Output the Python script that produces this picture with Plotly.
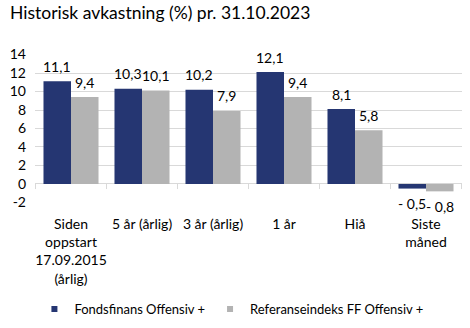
import plotly.graph_objects as go

categories = ["Siden<br>oppstart<br>17.09.2015<br>(årlig)", "5 år (årlig)", "3 år (årlig)",
              "1 år", "Hiå", "Siste<br>måned"]
fund = [11.1, 10.3, 10.2, 12.1, 8.1, -0.5]
ref = [9.4, 10.1, 7.9, 9.4, 5.8, -0.8]
series_names = ["Fondsfinans Offensiv +", "Referanseindeks FF Offensiv +"]
y_ticks = [-2, 0, 2, 4, 6, 8, 10, 12, 14]

BLUE = "#253672"
GRAY = "#b3b3b3"
FONT = "Lato"


def fmt(v):
    s = f"{abs(v):.1f}".replace(".", ",")
    return ("- " + s) if v < 0 else s


fig = go.Figure()
for vals, col in [(fund, BLUE), (ref, GRAY)]:
    fig.add_trace(go.Bar(
        x=categories, y=vals, marker=dict(color=col, line=dict(width=0)),
        showlegend=False, hoverinfo="skip"))

# value labels, offset to each bar of the group
half_bar = 13.8
for vals, dx in [(fund, -half_bar), (ref, half_bar)]:
    for c, v in zip(categories, vals):
        fig.add_annotation(x=c, y=v, xref="x", yref="y", text=fmt(v), showarrow=False,
                           xshift=dx, yshift=15 if v >= 0 else -15, yanchor="middle",
                           font=dict(family=FONT, size=14, color="#000"))

# legend entries (small square symbols)
for name, col in zip(series_names, [BLUE, GRAY]):
    fig.add_trace(go.Scatter(x=[None], y=[None], mode="markers", name=name,
                             marker=dict(symbol="square", size=6, color=col)))

# tick marks on the zero axis line between categories
for i in range(len(categories) + 1):
    fig.add_shape(type="line", xref="x", yref="y", x0=i - 0.5, x1=i - 0.5, y0=0, y1=-0.55,
                  line=dict(color="#d9d9d9", width=1))

fig.update_layout(
    width=470, height=328,
    margin=dict(l=35, r=8, t=54, b=125, autoexpand=False),
    paper_bgcolor="white", plot_bgcolor="white",
    font=dict(family=FONT, size=14, color="#000"),
    barmode="group", bargap=0.225, bargroupgap=0,
    title=dict(text="Historisk avkastning (%) pr. 31.10.2023", x=10 / 470, xref="container",
               xanchor="left", y=1 - 13 / 328, yref="container", yanchor="middle",
               font=dict(family=FONT, size=17.5, color="#000")),
    xaxis=dict(type="category", showgrid=False, showline=False, ticks="",
               ticklabelstandoff=11, automargin=False,
               tickfont=dict(family=FONT, size=14, color="#000"), zeroline=False),
    yaxis=dict(range=[-2.06, 14.06], tickvals=y_ticks, ticktext=[str(t) for t in y_ticks],
               showgrid=True, gridcolor="#d9d9d9", gridwidth=1, automargin=False,
               zeroline=True, zerolinecolor="#d9d9d9", zerolinewidth=1,
               showline=False, ticks="", ticklabelstandoff=8,
               tickfont=dict(family=FONT, size=14, color="#000")),
    legend=dict(orientation="h", x=0.46, xanchor="center", yref="container",
                y=1 - 309 / 328, yanchor="middle",
                font=dict(family=FONT, size=13, color="#000"), itemwidth=30),
)

fig.write_html("out.html")
